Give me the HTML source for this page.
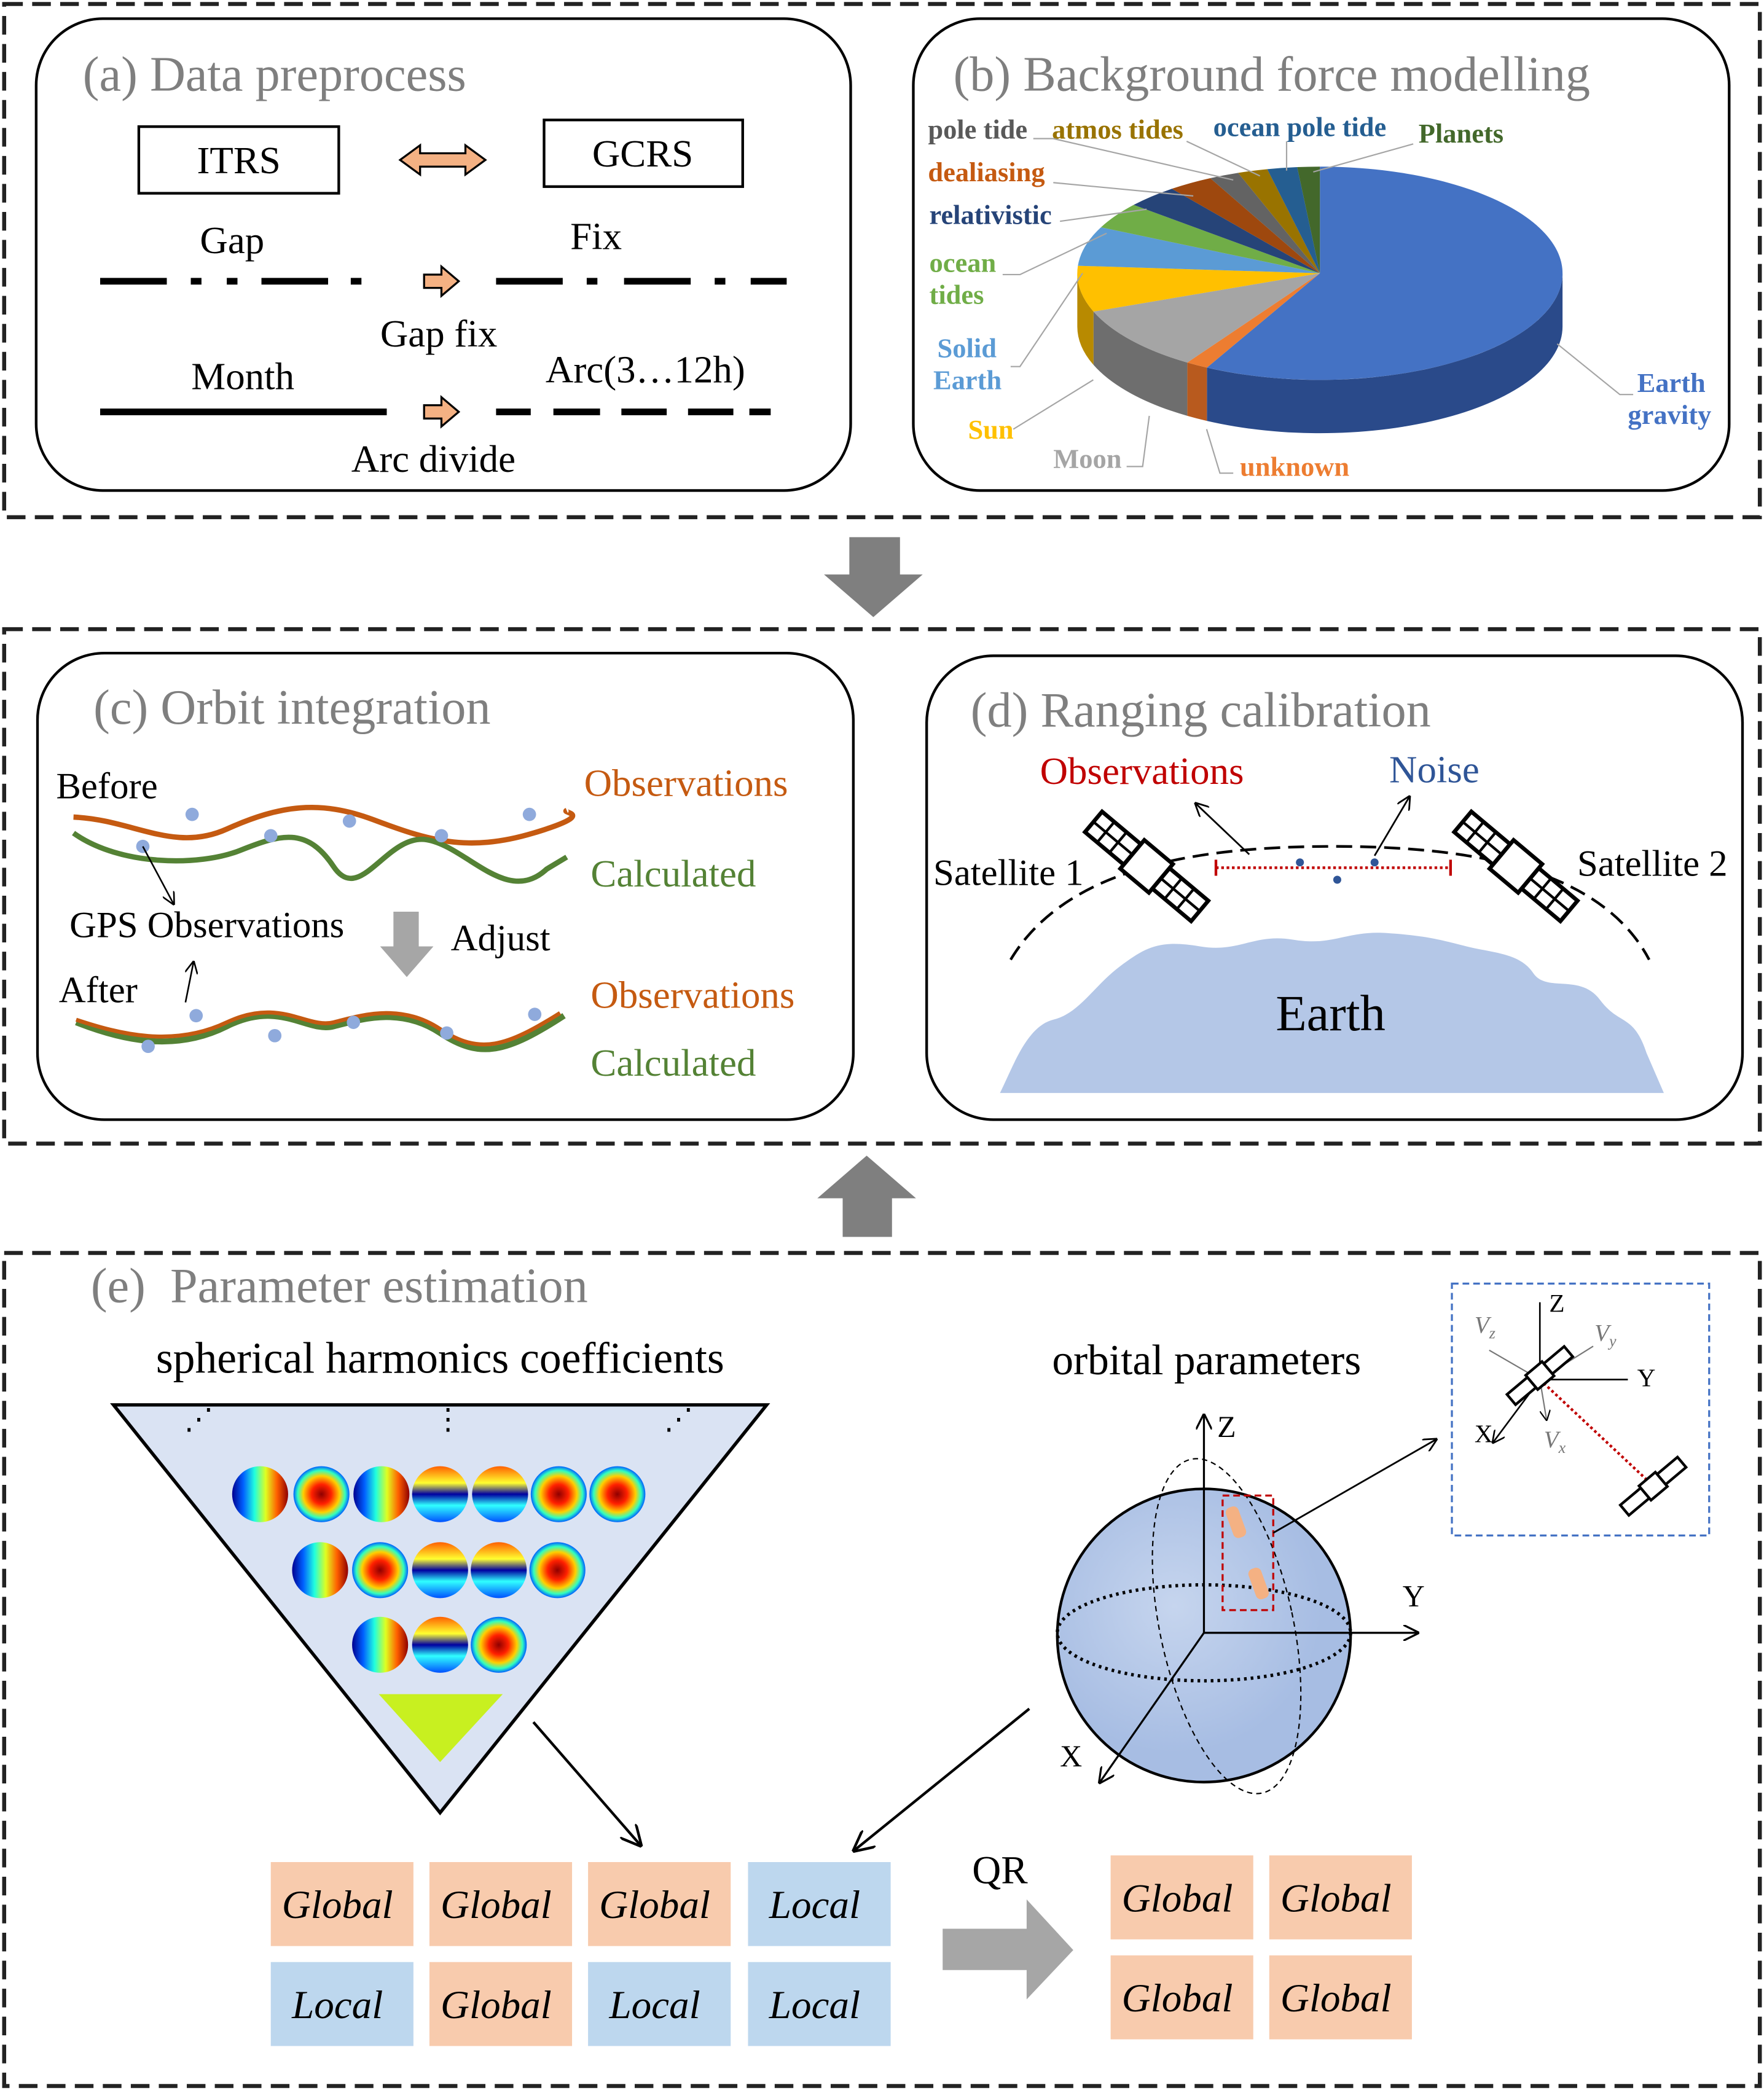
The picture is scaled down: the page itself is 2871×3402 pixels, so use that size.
<!DOCTYPE html>
<html><head><meta charset="utf-8"><style>
html,body{margin:0;padding:0;background:#fff}
svg{display:block}
text{font-family:"Liberation Serif",serif}
</style></head><body>
<svg id="root" width="2871" height="3402" viewBox="0 0 1323 1568" xmlns="http://www.w3.org/2000/svg">
<defs>
<linearGradient id="jet" x1="0" x2="1"><stop offset="0" stop-color="#00008f"/><stop offset=".2" stop-color="#0060ff"/><stop offset=".4" stop-color="#20ffdf"/><stop offset=".6" stop-color="#dfff20"/><stop offset=".8" stop-color="#ff6000"/><stop offset="1" stop-color="#8f0000"/></linearGradient>
<linearGradient id="jetv" x1="0" x2="0" y1="0" y2="1"><stop offset="0" stop-color="#ff6000"/><stop offset=".3" stop-color="#ffff30"/><stop offset=".5" stop-color="#0000a0"/><stop offset=".7" stop-color="#30ffff"/><stop offset="1" stop-color="#0050ff"/></linearGradient>
<radialGradient id="jetr"><stop offset="0" stop-color="#8f0000"/><stop offset=".35" stop-color="#ff2000"/><stop offset=".65" stop-color="#ffd000"/><stop offset=".85" stop-color="#30ffc0"/><stop offset="1" stop-color="#0060ff"/></radialGradient>
<radialGradient id="sph" cx=".4" cy=".4"><stop offset="0" stop-color="#c6d5ee"/><stop offset="1" stop-color="#a7bde3"/></radialGradient>
<marker id="ah" markerWidth="8" markerHeight="8" refX="7" refY="4" orient="auto"><path d="M0,0L8,4L0,8" fill="none" stroke="#000" stroke-width="1"/></marker>
</defs>
<rect width="1323" height="1568" fill="#fff"/>
<rect x="3" y="3" width="1317" height="385" fill="none" stroke="#222" stroke-width="3" stroke-dasharray="14,7"/>
<rect x="3" y="472" width="1317" height="386" fill="none" stroke="#222" stroke-width="3" stroke-dasharray="14,7"/>
<rect x="3" y="940" width="1317" height="625" fill="none" stroke="#222" stroke-width="3" stroke-dasharray="14,7"/>
<path d="M637,403H675V431H692L655,463L618,431H637Z" fill="#7f7f7f"/>
<path d="M632,928H669V899H687L650,867L613,899H632Z" fill="#7f7f7f"/>

<g>
<rect x="27" y="14" width="611" height="354" rx="50" fill="none" stroke="#000" stroke-width="2"/>
<text x="62" y="68" font-size="37" fill="#7f7f7f">(a) Data preprocess</text>
<rect x="104" y="95" width="150" height="50" fill="none" stroke="#000" stroke-width="2"/>
<text x="179" y="130" font-size="29" text-anchor="middle">ITRS</text>
<rect x="408" y="90" width="149" height="50" fill="none" stroke="#000" stroke-width="2"/>
<text x="482" y="125" font-size="29" text-anchor="middle">GCRS</text>
<path d="M300,120L315,109V115H349V109L364,120L349,131V125H315V131Z" fill="#f4b183" stroke="#000" stroke-width="1.5"/>
<text x="174" y="190" font-size="29" text-anchor="middle">Gap</text>
<text x="447" y="187" font-size="29" text-anchor="middle">Fix</text>
<path d="M75,211H125M143,211H151M170,211H178M196,211H246M263,211H271" stroke="#000" stroke-width="5"/>
<path d="M372,211H422M440,211H448M468,211H518M536,211H544M563,211H590" stroke="#000" stroke-width="5"/>
<path d="M318,206H331V200L344,211L331,222V216H318Z" fill="#f4b183" stroke="#000" stroke-width="1.5"/>
<text x="329" y="260" font-size="29" text-anchor="middle">Gap fix</text>
<text x="182" y="292" font-size="29" text-anchor="middle">Month</text>
<text x="484" y="287" font-size="29" text-anchor="middle">Arc(3…12h)</text>
<path d="M75,309H290" stroke="#000" stroke-width="5"/>
<path d="M372,309H398M415,309H450M466,309H500M516,309H550M562,309H578" stroke="#000" stroke-width="5"/>
<path d="M318,304H331V298L344,309L331,320V314H318Z" fill="#f4b183" stroke="#000" stroke-width="1.5"/>
<text x="325" y="354" font-size="29" text-anchor="middle">Arc divide</text>
</g>

<g>
<rect x="685" y="14" width="612" height="354" rx="50" fill="none" stroke="#000" stroke-width="2"/>
<text x="715" y="68" font-size="37" fill="#7f7f7f">(b) Background force modelling</text>
<g id="pie"></g>
<g font-size="20.5" font-weight="bold">
<text x="696" y="104" fill="#595959">pole tide</text>
<text x="789" y="104" fill="#997300">atmos tides</text>
<text x="910" y="102" fill="#255e91">ocean pole tide</text>
<text x="1064" y="107" fill="#43682b">Planets</text>
<text x="696" y="136" fill="#c55a11">dealiasing</text>
<text x="697" y="168" fill="#264478">relativistic</text>
<text x="697" y="204" fill="#70ad47">ocean</text>
<text x="697" y="228" fill="#70ad47">tides</text>
<text x="703" y="268" fill="#5b9bd5">Solid</text>
<text x="700" y="292" fill="#5b9bd5">Earth</text>
<text x="726" y="329" fill="#ffc000">Sun</text>
<text x="790" y="351" fill="#a5a5a5">Moon</text>
<text x="930" y="357" fill="#ed7d31">unknown</text>
<text x="1228" y="294" fill="#4472c4">Earth</text>
<text x="1221" y="318" fill="#4472c4">gravity</text>
</g>
<g stroke="#a5a5a5" stroke-width="1" fill="none">
<path d="M775,104H790L925,135"/><path d="M890,106L945,132"/><path d="M965,106V128"/><path d="M1060,108L985,129"/>
<path d="M790,137L895,147"/><path d="M795,166L860,157"/><path d="M752,206H765L830,175"/>
<path d="M758,275H765L812,205"/><path d="M760,322L820,285"/><path d="M845,350H857L862,312"/>
<path d="M925,355H915L905,322"/><path d="M1225,296H1215L1168,258"/>
</g>
</g>

<g>
<rect x="28" y="490" width="612" height="350" rx="50" fill="none" stroke="#000" stroke-width="2"/>
<text x="70" y="543" font-size="37" fill="#7f7f7f">(c) Orbit integration</text>
<text x="42" y="599" font-size="28">Before</text>
<text x="438" y="597" font-size="29" fill="#c55a11">Observations</text>
<text x="443" y="665" font-size="29" fill="#548235">Calculated</text>
<path d="M55,613C100,615 130,640 170,622S240,600 280,615S350,640 400,625S420,610 425,608" fill="none" stroke="#c55a11" stroke-width="4"/>
<path d="M55,625C90,650 150,650 180,638S230,620 250,650S290,625 320,630S380,680 410,652L425,643" fill="none" stroke="#548235" stroke-width="4"/>
<g fill="#8faadc"><circle cx="144" cy="611" r="5"/><circle cx="107" cy="635" r="5"/><circle cx="203" cy="627" r="5"/><circle cx="262" cy="616" r="5"/><circle cx="331" cy="627" r="5"/><circle cx="397" cy="611" r="5"/></g>
<path d="M107,635L130,678" stroke="#000" stroke-width="1.2" marker-end="url(#ah)"/>
<text x="52" y="703" font-size="28">GPS Observations</text>
<path d="M139,752L145,722" stroke="#000" stroke-width="1.2" marker-end="url(#ah)"/>
<path d="M295,684H314V710H325L305,733L285,710H295Z" fill="#a6a6a6"/>
<text x="338" y="713" font-size="28">Adjust</text>
<text x="44" y="752" font-size="28">After</text>
<text x="443" y="756" font-size="29" fill="#c55a11">Observations</text>
<text x="443" y="807" font-size="29" fill="#548235">Calculated</text>
<path d="M57,767C90,780 130,790 170,770S230,775 250,770S300,755 330,775S380,790 423,762" fill="none" stroke="#548235" stroke-width="4.5"/>
<path d="M57,765C90,776 130,786 170,767S230,772 250,767S300,752 330,772S380,785 420,760" fill="none" stroke="#c55a11" stroke-width="3"/>
<g fill="#8faadc"><circle cx="111" cy="785" r="5"/><circle cx="147" cy="762" r="5"/><circle cx="206" cy="777" r="5"/><circle cx="265" cy="767" r="5"/><circle cx="335" cy="775" r="5"/><circle cx="401" cy="761" r="5"/></g>
</g>

<g>
<rect x="695" y="492" width="612" height="348" rx="50" fill="none" stroke="#000" stroke-width="2"/>
<text x="728" y="545" font-size="37" fill="#7f7f7f">(d) Ranging calibration</text>
<text x="780" y="588" font-size="29" fill="#c00000">Observations</text>
<text x="1042" y="587" font-size="29" fill="#2f5597">Noise</text>
<path d="M758,720C800,650 900,635 1000,635S1200,650 1237,720" fill="none" stroke="#000" stroke-width="2" stroke-dasharray="12,6"/>
<path d="M750,820C760,800 770,770 790,765S820,740 840,725S870,705 900,710S940,700 970,705S1010,698 1040,700S1080,705 1100,710S1140,715 1150,730S1185,730 1200,750S1225,760 1235,790L1248,820Z" fill="#b4c7e7"/>
<text x="998" y="773" font-size="38" text-anchor="middle">Earth</text>
<path d="M912,651H1088" stroke="#c00000" stroke-width="2" stroke-dasharray="2,2"/>
<path d="M912,645V657M1088,645V657" stroke="#c00000" stroke-width="2"/>
<g fill="#2f5597"><circle cx="975" cy="647" r="3"/><circle cx="1003" cy="660" r="3"/><circle cx="1031" cy="647" r="3"/></g>
<path d="M937,641L897,603" stroke="#000" stroke-width="1.3" marker-end="url(#ah)"/>
<path d="M1031,642L1057,598" stroke="#000" stroke-width="1.3" marker-end="url(#ah)"/>
<text x="700" y="664" font-size="28">Satellite 1</text>
<text x="1183" y="657" font-size="28">Satellite 2</text>
<g transform="translate(860,650) rotate(40)" fill="#fff" stroke="#000" stroke-width="3">
<rect x="-52" y="-10" width="38" height="20"/><rect x="14" y="-10" width="38" height="20"/><rect x="-14" y="-14" width="28" height="28"/><path d="M-40,-10V10M-28,-10V10M26,-10V10M38,-10V10M-52,0H-14M14,0H52" stroke-width="2"/>
</g>
<g transform="translate(1137,650) rotate(40)" fill="#fff" stroke="#000" stroke-width="3">
<rect x="-52" y="-10" width="38" height="20"/><rect x="14" y="-10" width="38" height="20"/><rect x="-14" y="-14" width="28" height="28"/><path d="M-40,-10V10M-28,-10V10M26,-10V10M38,-10V10M-52,0H-14M14,0H52" stroke-width="2"/>
</g>
</g>

<g>
<text x="68" y="977" font-size="37" fill="#7f7f7f" xml:space="preserve">(e)  Parameter estimation</text>
<text x="330" y="1030" font-size="33" text-anchor="middle">spherical harmonics coefficients</text>
<text x="905" y="1031" font-size="32" text-anchor="middle">orbital parameters</text>
<path d="M85,1054H575L330,1360Z" fill="#dae3f3" stroke="#000" stroke-width="2.5"/>
<g font-size="22"><text x="138" y="1072">⋰</text><text x="325" y="1072">⋮</text><text x="498" y="1072">⋰</text></g>
<g>
<circle cx="195" cy="1121" r="21" fill="url(#jet)"/><circle cx="241" cy="1121" r="21" fill="url(#jetr)"/><circle cx="286" cy="1121" r="21" fill="url(#jet)"/><circle cx="330" cy="1121" r="21" fill="url(#jetv)"/><circle cx="375" cy="1121" r="21" fill="url(#jetv)"/><circle cx="419" cy="1121" r="21" fill="url(#jetr)"/><circle cx="463" cy="1121" r="21" fill="url(#jetr)"/>
<circle cx="240" cy="1178" r="21" fill="url(#jet)"/><circle cx="285" cy="1178" r="21" fill="url(#jetr)"/><circle cx="330" cy="1178" r="21" fill="url(#jetv)"/><circle cx="374" cy="1178" r="21" fill="url(#jetv)"/><circle cx="418" cy="1178" r="21" fill="url(#jetr)"/>
<circle cx="285" cy="1234" r="21" fill="url(#jet)"/><circle cx="330" cy="1234" r="21" fill="url(#jetv)"/><circle cx="374" cy="1234" r="21" fill="url(#jetr)"/>
<path d="M284,1271H377L330,1322Z" fill="#c8f020"/>
</g>
<path d="M400,1292L480,1384" stroke="#000" stroke-width="2" marker-end="url(#ah)"/>
<path d="M772,1282L641,1388" stroke="#000" stroke-width="2" marker-end="url(#ah)"/>
<g>
<circle cx="903" cy="1227" r="110" fill="url(#sph)" stroke="#000" stroke-width="2"/>
<ellipse cx="903" cy="1225" rx="110" ry="36" fill="none" stroke="#000" stroke-width="2.5" stroke-dasharray="2,3"/>
<ellipse cx="920" cy="1220" rx="50" ry="128" transform="rotate(-12 920 1220)" fill="none" stroke="#000" stroke-dasharray="4,3"/>
<path d="M903,1225V1062" stroke="#000" stroke-width="1.5" marker-end="url(#ah)"/>
<path d="M903,1225H1063" stroke="#000" stroke-width="1.5" marker-end="url(#ah)"/>
<path d="M903,1225L825,1337" stroke="#000" stroke-width="1.5" marker-end="url(#ah)"/>
<text x="913" y="1078" font-size="23">Z</text><text x="1052" y="1205" font-size="23">Y</text><text x="795" y="1325" font-size="23">X</text>
<rect x="917" y="1122" width="38" height="86" fill="none" stroke="#c00000" stroke-dasharray="5,3" stroke-width="1.5"/>
<rect x="922" y="1130" width="10" height="24" rx="4" fill="#f4b183" transform="rotate(-20 927 1142)"/>
<rect x="939" y="1176" width="10" height="24" rx="4" fill="#f4b183" transform="rotate(-20 944 1188)"/>
<path d="M955,1150L1077,1080" stroke="#000" stroke-width="1.3" marker-end="url(#ah)"/>
</g>
<g>
<rect x="1089" y="963" width="193" height="189" fill="none" stroke="#4472c4" stroke-dasharray="5,3" stroke-width="1.5"/>
<path d="M1155,1035V977M1155,1035H1221M1155,1035L1120,1082" stroke="#000" stroke-width="1.2" marker-end="url(#ah)" fill="none"/>
<path d="M1155,1035L1117,1013M1155,1035L1195,1010M1155,1035L1160,1065" stroke="#777" stroke-width="1" fill="none" marker-end="url(#ah)"/>
<path d="M1155,1035L1235,1110" stroke="#c00000" stroke-dasharray="2,2" stroke-width="2"/>
<g font-size="19"><text x="1162" y="984">Z</text><text x="1228" y="1040">Y</text><text x="1106" y="1082">X</text></g>
<g font-size="18" font-style="italic" fill="#777"><text x="1106" y="1000">V<tspan font-size="12" dy="4">z</tspan></text><text x="1196" y="1006">V<tspan font-size="12" dy="4">y</tspan></text><text x="1158" y="1086">V<tspan font-size="12" dy="4">x</tspan></text></g>
<g transform="translate(1155,1032) rotate(-40)" fill="#fff" stroke="#000" stroke-width="2"><rect x="-28" y="-5" width="20" height="10"/><rect x="8" y="-5" width="20" height="10"/><rect x="-8" y="-7" width="16" height="14"/></g>
<g transform="translate(1240,1115) rotate(-40)" fill="#fff" stroke="#000" stroke-width="2"><rect x="-28" y="-5" width="20" height="10"/><rect x="8" y="-5" width="20" height="10"/><rect x="-8" y="-7" width="16" height="14"/></g>
</g>
<g font-size="30" font-style="italic" text-anchor="middle">
<rect x="203" y="1397" width="107" height="63" fill="#f8cbad"/><text x="253" y="1439">Global</text>
<rect x="322" y="1397" width="107" height="63" fill="#f8cbad"/><text x="372" y="1439">Global</text>
<rect x="441" y="1397" width="107" height="63" fill="#f8cbad"/><text x="491" y="1439">Global</text>
<rect x="561" y="1397" width="107" height="63" fill="#bdd7ee"/><text x="611" y="1439">Local</text>
<rect x="203" y="1472" width="107" height="63" fill="#bdd7ee"/><text x="253" y="1514">Local</text>
<rect x="322" y="1472" width="107" height="63" fill="#f8cbad"/><text x="372" y="1514">Global</text>
<rect x="441" y="1472" width="107" height="63" fill="#bdd7ee"/><text x="491" y="1514">Local</text>
<rect x="561" y="1472" width="107" height="63" fill="#bdd7ee"/><text x="611" y="1514">Local</text>
<rect x="833" y="1392" width="107" height="63" fill="#f8cbad"/><text x="883" y="1434">Global</text>
<rect x="952" y="1392" width="107" height="63" fill="#f8cbad"/><text x="1002" y="1434">Global</text>
<rect x="833" y="1467" width="107" height="63" fill="#f8cbad"/><text x="883" y="1509">Global</text>
<rect x="952" y="1467" width="107" height="63" fill="#f8cbad"/><text x="1002" y="1509">Global</text>
</g>
<text x="750" y="1413" font-size="30" text-anchor="middle">QR</text>
<path d="M707,1447H770V1425L805,1463L770,1500V1478H707Z" fill="#a6a6a6"/>
</g>
</svg>
<script>
const categories = ["Earth gravity","unknown","Moon","Sun","Solid Earth","ocean tides","relativistic","dealiasing","pole tide","atmos tides","ocean pole tide","Planets"];
const values = [58, 1.5, 10, 7, 6, 4, 3.5, 3, 2, 2, 2, 1.5];
const colors = ["#4472c4","#ed7d31","#a5a5a5","#ffc000","#5b9bd5","#70ad47","#264478","#9e480e","#636363","#997300","#255e91","#43682b"];
const sides = ["#2a4a8a","#b85a1e","#6e6e6e","#b88a00","#3c6f9e","#4c7a2f","#182d50","#6b300a","#424242","#665000","#193f61","#2c451c"];
(function(){
  const ns="http://www.w3.org/2000/svg", g=document.getElementById("pie");
  const cx=990, cy=205, rx=182, ry=80, depth=40;
  const total=values.reduce((a,b)=>a+b,0);
  const P=(t,d)=>{const r=t*Math.PI/180;return [cx+rx*Math.cos(r), cy+ry*Math.sin(r)+(d||0)];};
  let a=-90; const segs=[];
  values.forEach((v,i)=>{const s=a, e=a+v/total*360; segs.push([s,e,i]); a=e;});
  segs.forEach(([s,e,i])=>{
    [[0,180],[360,540]].forEach(([lo,hi])=>{
      const s2=Math.max(s,lo), e2=Math.min(e,hi);
      if(e2<=s2) return;
      const p1=P(s2),p2=P(e2),p3=P(e2,depth),p4=P(s2,depth);
      const path=document.createElementNS(ns,"path");
      path.setAttribute("d",`M${p1}A${rx},${ry} 0 0 1 ${p2}L${p3}A${rx},${ry} 0 0 0 ${p4}Z`);
      path.setAttribute("fill",sides[i]);
      
      
      g.appendChild(path);
    });
  });
  segs.forEach(([s,e,i])=>{
    const p1=P(s),p2=P(e), large=(e-s)>180?1:0;
    const path=document.createElementNS(ns,"path");
    path.setAttribute("d",`M${cx},${cy}L${p1}A${rx},${ry} 0 ${large} 1 ${p2}Z`);
    path.setAttribute("fill",colors[i]);
    
    
    g.appendChild(path);
  });
})();
</script>
</body></html>
